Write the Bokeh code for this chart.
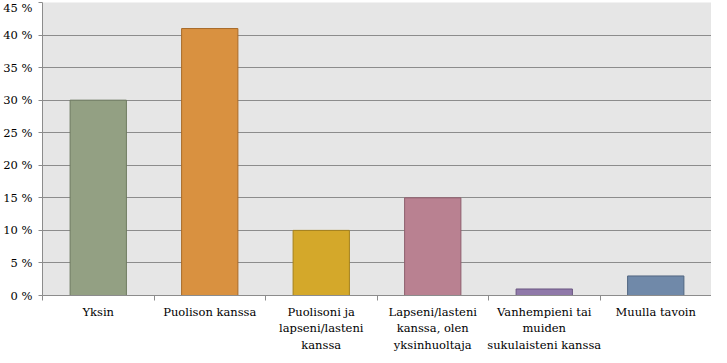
from bokeh.plotting import figure
from bokeh.models import Range1d, FixedTicker, PrintfTickFormatter, ColumnDataSource
from bokeh.embed import file_html
from bokeh.resources import INLINE

categories = ["Yksin", "Puolison kanssa", "Puolisoni ja\nlapseni/lasteni\nkanssa",
              "Lapseni/lasteni\nkanssa, olen\nyksinhuoltaja",
              "Vanhempieni tai\nmuiden\nsukulaisteni kanssa", "Muulla tavoin"]
values = [30, 41, 10, 15, 1, 3]
colors = ["#93A083", "#D99140", "#D4A82A", "#B98191", "#8F79A9", "#7089A9"]
edges = ["#6E7A60", "#A86A28", "#A4801A", "#8E5F6D", "#6A5580", "#516680"]
y_ticks = [0, 5, 10, 15, 20, 25, 30, 35, 40, 45]

n = len(categories)
centers = [i + 0.5 for i in range(n)]
bounds = list(range(n + 1))

src = ColumnDataSource(dict(x=centers, top=values, fill=colors, line=edges))

p = figure(width=711, height=355, x_range=Range1d(0, n), y_range=Range1d(0, 45),
           output_backend="svg", toolbar_location=None,
           min_border_left=36, min_border_right=0, min_border_top=2, min_border_bottom=0)
p.background_fill_color = "#E6E6E6"
p.border_fill_color = "white"
p.outline_line_color = None

p.vbar(x="x", top="top", bottom=0, width=0.505, fill_color="fill", line_color="line",
       line_width=1, source=src)

font = "DejaVu Serif"
p.xgrid.visible = False
p.ygrid.ticker = FixedTicker(ticks=y_ticks)
p.ygrid.grid_line_color = "#8C8C8C"
p.ygrid.grid_line_width = 1.2

p.yaxis.ticker = FixedTicker(ticks=y_ticks)
p.yaxis.formatter = PrintfTickFormatter(format="%d %%")
p.yaxis.axis_line_color = "#8C8C8C"
p.yaxis.major_tick_line_color = "#8C8C8C"
p.yaxis.major_tick_out = 4
p.yaxis.major_tick_in = 0
p.yaxis.minor_tick_line_color = None
p.yaxis.major_label_text_font = font
p.yaxis.major_label_text_font_size = "11.5px"
p.yaxis.major_label_text_color = "#000000"
p.yaxis.major_label_standoff = 6

p.xaxis.ticker = FixedTicker(ticks=centers, minor_ticks=bounds)
p.xaxis.major_label_overrides = {c: lab for c, lab in zip(centers, categories)}
p.xaxis.axis_line_color = "#8C8C8C"
p.xaxis.major_tick_line_color = None
p.xaxis.minor_tick_line_color = "#8C8C8C"
p.xaxis.minor_tick_out = 5
p.xaxis.minor_tick_in = 0
p.xaxis.major_label_text_font = font
p.xaxis.major_label_text_font_size = "11.5px"
p.xaxis.major_label_text_color = "#000000"
p.xaxis.major_label_text_line_height = 1.2
p.xaxis.major_label_standoff = 3

open("out.html", "w").write(file_html(p, INLINE))
